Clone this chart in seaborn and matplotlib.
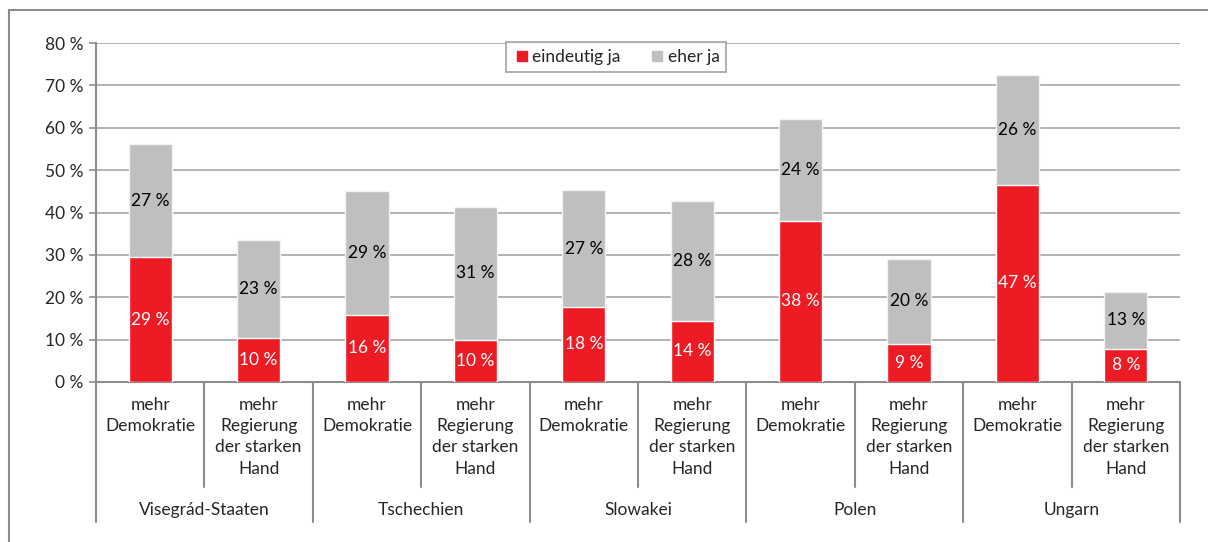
import pandas as pd
import matplotlib.pyplot as plt
import seaborn as sns
from matplotlib.lines import Line2D
import matplotlib.transforms as mtransforms

# Werte (in %)
groups = ['Visegrád-Staaten', 'Tschechien', 'Slowakei', 'Polen', 'Ungarn']
subcats = ['mehr\nDemokratie', 'mehr\nRegierung\nder starken\nHand']
eindeutig_ja = [29.4, 10.3, 15.9, 10.0, 17.8, 14.4, 38.1, 9.0, 46.6, 7.9]
eher_ja = [26.7, 23.3, 29.2, 31.3, 27.4, 28.2, 23.9, 20.1, 25.9, 13.3]
yticks = [0, 10, 20, 30, 40, 50, 60, 70, 80]

RED = '#ED1C24'
GREY = '#BFBFBF'
LINE = '#8c8c8c'
FS = 12.5

keys = [f'{g}|{s}' for g in groups for s in subcats]
df = pd.DataFrame({'key': keys, 'rot': eindeutig_ja, 'grau': eher_ja})
df['summe'] = df['rot'] + df['grau']

sns.set_style('white')
plt.rcParams['font.family'] = ['Lato', 'DejaVu Sans']

fig = plt.figure(figsize=(12.08, 5.42), dpi=100)
ax = fig.add_axes([96 / 1208, 1 - 382 / 542, 1084 / 1208, 339 / 542])

sns.barplot(data=df, x='key', y='summe', order=keys, color=GREY, width=0.4,
            edgecolor='#f2f2f2', linewidth=1, saturation=1, ax=ax, zorder=3,
            label='eher ja')
sns.barplot(data=df, x='key', y='rot', order=keys, color=RED, width=0.4,
            edgecolor='white', linewidth=1, saturation=1, ax=ax, zorder=4,
            label='eindeutig ja')

grey_bars, red_bars = ax.containers[0], ax.containers[1]
# Beschriftung in der Mitte der Segmente
for bar, v in zip(grey_bars, df['grau']):
    top = bar.get_height()
    ax.text(bar.get_x() + bar.get_width() / 2, top - v / 2, f'{v:.0f} %',
            ha='center', va='center', fontsize=FS, color='black', zorder=5)
ax.bar_label(red_bars, labels=[f'{v:.0f} %' for v in df['rot']],
             label_type='center', color='white', fontsize=FS, zorder=5)

ax.set_xlim(-0.5, len(keys) - 0.5)
ax.set_ylim(0, 80)
ax.set_yticks(yticks)
ax.set_yticklabels([f'{t} %' for t in yticks], fontsize=FS)
ax.yaxis.grid(True, color='#a6a6a6', linewidth=1.2, zorder=0)
ax.set_axisbelow(True)
ax.tick_params(axis='y', direction='out', length=5, width=1.2, color=LINE,
               left=True, pad=4)
ax.set_xticks([])
ax.set_xlabel('')
ax.set_ylabel('')
for side in ['top', 'right']:
    ax.spines[side].set_visible(False)
for side in ['left', 'bottom']:
    ax.spines[side].set_color(LINE)
    ax.spines[side].set_linewidth(1.5)

# zweistufige Kategorienachse
trans = mtransforms.blended_transform_factory(ax.transData, ax.transAxes)
px = 1 / 339  # ein Pixel in Achsenkoordinaten (vertikal)
for i, k in enumerate(keys):
    g, s = k.split('|')
    ax.text(i, -15 * px, s, transform=trans, ha='center', va='top',
            fontsize=FS, linespacing=1.4, clip_on=False)
for j, g in enumerate(groups):
    ax.text(2 * j + 0.5, -128 * px, g, transform=trans, ha='center',
            va='center', fontsize=FS, clip_on=False)
for b in range(len(keys) + 1):
    bottom = -140 * px if b % 2 == 0 else -105 * px
    ax.add_line(Line2D([b - 0.5, b - 0.5], [0, bottom], transform=trans,
                       color=LINE, linewidth=1.5, clip_on=False))

handles = [Line2D([], [], marker='s', linestyle='', color=RED, markersize=7),
           Line2D([], [], marker='s', linestyle='', color=GREY, markersize=7)]
leg = ax.legend(handles, ['eindeutig ja', 'eher ja'], loc='upper center',
                bbox_to_anchor=(0.48, 1.003), ncol=2, fontsize=FS,
                frameon=True, fancybox=False, handletextpad=0.1,
                columnspacing=1.6, borderpad=0.4, handlelength=1.0,
                borderaxespad=0)
leg.get_frame().set_edgecolor(LINE)
leg.get_frame().set_linewidth(1.2)

# Rahmen um die Grafik (rechts und unten abgeschnitten)
fig.add_artist(Line2D([9 / 1208, 9 / 1208], [0, 1 - 10 / 542], color=LINE,
                      linewidth=1.5))
fig.add_artist(Line2D([9 / 1208, 1], [1 - 10 / 542, 1 - 10 / 542],
                      color=LINE, linewidth=1.5))

fig.savefig('out.png', dpi=100)
